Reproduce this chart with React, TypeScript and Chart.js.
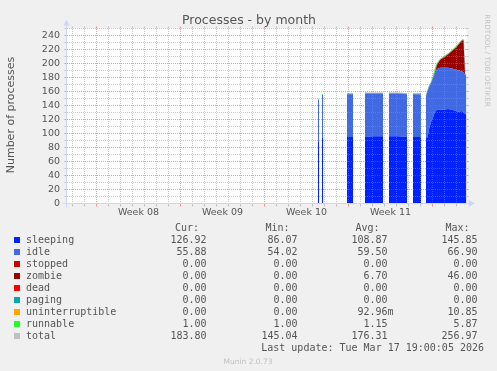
import React, { useEffect, useRef } from 'react';
import { Chart, registerables } from 'chart.js';

Chart.register(...registerables);

// ---- data (x = hours since the left edge of the month graph, 2 h per pixel) ----
const X_HOURS = [
  503, 505, 507,
  511, 513, 515,
  561, 573, 575,
  597, 615, 633, 635,
  645, 663, 681, 683,
  693, 709, 711,
  719, 722, 725, 729, 733, 737, 741, 747, 755, 763, 771, 779, 785, 791, 794, 797, 800,
];
const N = null;
const SLEEPING = [
  88, 88, N,
  94, 94, N,
  95, 95, N,
  95, 96, 96, N,
  96, 96, 95, N,
  95, 95, N,
  95, 94, 106, 116, 123, 131, 134, 134, 134, 135, 134, 132, 131, 132, 130, 128, 127,
];
const IDLE = [
  60, 60, N,
  61, 61, N,
  61, 61, N,
  62, 61, 61, N,
  61, 61, 61, N,
  61, 61, N,
  58, 66, 60, 56, 56, 55, 58, 60, 60, 59, 59, 59, 59, 57, 57, 56, 56,
];
const STOPPED = [
  0, 0, N,
  0, 0, N,
  0, 0, N,
  0, 0, 0, N,
  0, 0, 0, N,
  0, 0, N,
  0, 0, 0, 0, 0, 0, 0, 0, 0, 0, 0, 0, 0, 0, 0, 0, 0,
];
const ZOMBIE = [
  0, 0, N,
  0, 0, N,
  0, 0, N,
  0, 0, 0, N,
  0, 0, 0, N,
  0, 0, N,
  0, 0, 0, 0, 0, 2, 6, 11, 15, 19, 25, 32, 38, 44, 46, 0, 0,
];
const DEAD = STOPPED;
const PAGING = STOPPED;
const UNINTERRUPTIBLE = STOPPED;
const RUNNABLE = [
  1, 1, N,
  1, 1, N,
  1, 1, N,
  1, 1, 1, N,
  1, 1, 1, N,
  1, 1, N,
  1, 1, 1, 1, 2, 4, 2, 1, 1, 1, 1, 1, 1, 1, 1, 1, 1,
];

const Y_TICKS = [0, 20, 40, 60, 80, 100, 120, 140, 160, 180, 200, 220, 240];
const Y_MINOR = [10, 30, 50, 70, 90, 110, 130, 150, 170, 190, 210, 230, 250];
const DAY_LINES = [12, 36, 84, 108, 132, 156, 180, 204, 252, 276, 300, 324, 348, 372, 420, 444, 468, 492, 516, 540, 588, 612, 636, 660, 684, 708, 756, 780];
const WEEK_LINES = [60, 228, 396, 564, 732];
const WEEK_CENTERS = [144, 312, 480, 648];
const WEEK_LABELS = ['Week 08', 'Week 09', 'Week 10', 'Week 11'];

const SERIES_NAMES = ['sleeping', 'idle', 'stopped', 'zombie', 'dead', 'paging', 'uninterruptible', 'runnable', 'total'];
const SERIES_COLORS = ['#0022ff', '#4169e1', '#cc0000', '#990000', '#ff0000', '#00aaaa', '#ffa500', '#22ff22', '#c0c0c0'];
const CUR = ['126.92', '55.88', '0.00', '0.00', '0.00', '0.00', '0.00', '1.00', '183.80'];
const MIN = ['86.07', '54.02', '0.00', '0.00', '0.00', '0.00', '0.00', '1.00', '145.04'];
const AVG = ['108.87', '59.50', '0.00', '6.70', '0.00', '0.00', '92.96m', '1.15', '176.31'];
const MAX = ['145.85', '66.90', '0.00', '46.00', '0.00', '0.00', '10.85', '5.87', '256.97'];

const TITLE = 'Processes - by month';
const Y_TITLE = 'Number of processes';
const LAST_UPDATE = 'Last update: Tue Mar 17 19:00:05 2026';
const WATERMARK = 'RRDTOOL / TOBI OETIKER';
const VERSION = 'Munin 2.0.73';

const FONT_COLOR = '#555555';
const SANS = '"DejaVu Sans", sans-serif';
const MONO = '"DejaVu Sans Mono", monospace';

const px = (v: number) => Math.floor(v) + 0.5;

const munPlugin = {
  id: 'munin',
  beforeDraw(chart: any) {
    const { ctx, chartArea: a } = chart;
    ctx.save();
    ctx.fillStyle = '#f0f0f0';
    ctx.fillRect(0, 0, chart.width, chart.height);
    ctx.fillStyle = '#ffffff';
    ctx.fillRect(a.left, a.top, a.right - a.left, a.bottom - a.top);
    ctx.restore();
  },
  afterDatasetsDraw(chart: any) {
    const { ctx, chartArea: a, scales } = chart;
    const x = scales.x;
    const y = scales.y;
    const minorC = 'rgba(150,150,150,0.5)';
    const majorC = 'rgba(255,60,60,0.55)';
    const l0 = Math.ceil(a.left);
    const t0 = Math.ceil(a.top);
    ctx.save();
    ctx.lineWidth = 1;
    const hline = (v: number, c: string) => {
      const p = px(y.getPixelForValue(v));
      ctx.strokeStyle = c;
      ctx.setLineDash([1, 1]);
      ctx.beginPath(); ctx.moveTo(l0, p); ctx.lineTo(a.right, p); ctx.stroke();
      ctx.setLineDash([]);
      ctx.beginPath(); ctx.moveTo(a.left - 2, p); ctx.lineTo(a.left, p);
      ctx.moveTo(a.right, p); ctx.lineTo(a.right + 2, p); ctx.stroke();
    };
    const vline = (v: number, c: string) => {
      const p = px(x.getPixelForValue(v));
      ctx.strokeStyle = c;
      ctx.setLineDash([1, 1]);
      ctx.beginPath(); ctx.moveTo(p, t0); ctx.lineTo(p, a.bottom); ctx.stroke();
      ctx.setLineDash([]);
      ctx.beginPath(); ctx.moveTo(p, a.bottom); ctx.lineTo(p, a.bottom + 3);
      ctx.moveTo(p, a.top - 2); ctx.lineTo(p, a.top); ctx.stroke();
    };
    Y_MINOR.forEach((v) => hline(v, minorC));
    DAY_LINES.forEach((v) => vline(v, minorC));
    Y_TICKS.forEach((v) => hline(v, majorC));
    WEEK_LINES.forEach((v) => vline(v, majorC));

    // axes with arrows
    const axisC = '#cfd6f8';
    const x0 = px(a.left);
    const y0 = px(a.bottom);
    ctx.strokeStyle = axisC;
    ctx.fillStyle = axisC;
    ctx.beginPath();
    ctx.moveTo(x0 - 4, y0); ctx.lineTo(a.right + 4, y0);
    ctx.moveTo(x0, y0 + 4); ctx.lineTo(x0, a.top - 4);
    ctx.stroke();
    ctx.beginPath();
    ctx.moveTo(x0 - 3, a.top - 3); ctx.lineTo(x0 + 3, a.top - 3); ctx.lineTo(x0, a.top - 9); ctx.closePath(); ctx.fill();
    ctx.beginPath();
    ctx.moveTo(a.right + 2, y0 - 3.5); ctx.lineTo(a.right + 2, y0 + 3.5); ctx.lineTo(a.right + 8.5, y0); ctx.closePath(); ctx.fill();
    ctx.restore();
  },
  afterDraw(chart: any) {
    const { ctx } = chart;
    ctx.save();
    ctx.fillStyle = FONT_COLOR;
    // title
    ctx.font = `12.5px ${SANS}`;
    ctx.textAlign = 'center';
    ctx.textBaseline = 'alphabetic';
    ctx.fillText(TITLE, 249, 24);
    // y title
    ctx.save();
    ctx.translate(11, 115);
    ctx.rotate(-Math.PI / 2);
    ctx.font = `11px ${SANS}`;
    ctx.textBaseline = 'middle';
    ctx.fillText(Y_TITLE, 0, 0);
    ctx.restore();
    // watermark
    ctx.save();
    ctx.translate(487, 60.5);
    ctx.rotate(Math.PI / 2);
    ctx.font = `7.2px ${SANS}`;
    ctx.fillStyle = '#c4c4c4';
    ctx.textBaseline = 'middle';
    ctx.fillText(WATERMARK, 0, 0);
    ctx.restore();
    // legend
    ctx.font = `10px ${MONO}`;
    const cw = ctx.measureText('0').width;
    ctx.textBaseline = 'alphabetic';
    const headBase = 231;
    ctx.textAlign = 'left';
    ctx.fillText('Cur:', 175, headBase);
    ctx.fillText('Min:', 265.5, headBase);
    ctx.fillText('Avg:', 355.5, headBase);
    ctx.fillText('Max:', 445.5, headBase);
    const cols: [string[], number][] = [[CUR, 206.5], [MIN, 297.5], [AVG, 387.5], [MAX, 477.5]];
    SERIES_NAMES.forEach((name, i) => {
      const base = 243 + i * 12;
      ctx.fillStyle = SERIES_COLORS[i];
      ctx.fillRect(14, base - 6, 6, 6);
      ctx.fillStyle = FONT_COLOR;
      ctx.textAlign = 'left';
      ctx.fillText(name, 26, base);
      ctx.textAlign = 'right';
      cols.forEach(([arr, right]) => {
        const s = arr[i];
        const shift = /[a-z]$/i.test(s) ? cw : 0;
        ctx.fillText(s, right + shift, base);
      });
    });
    ctx.textAlign = 'right';
    ctx.fillText(LAST_UPDATE, 484, 351);
    ctx.textAlign = 'center';
    ctx.font = `7.5px ${SANS}`;
    ctx.fillStyle = '#c0c0c0';
    ctx.fillText(VERSION, 248, 363.5);
    ctx.restore();
  },
};

const STACK_SERIES = [SLEEPING, IDLE, STOPPED, ZOMBIE, DEAD, PAGING, UNINTERRUPTIBLE, RUNNABLE];

export default function App() {
  const ref = useRef<HTMLCanvasElement | null>(null);
  useEffect(() => {
    if (!ref.current) return;
    const datasets: any[] = STACK_SERIES.map((vals, i) => ({
      label: SERIES_NAMES[i],
      data: X_HOURS.map((h, k) => ({ x: h, y: vals[k] })),
      backgroundColor: SERIES_COLORS[i],
      borderColor: SERIES_COLORS[i],
      borderWidth: 0,
      pointRadius: 0,
      fill: i === 0 ? 'origin' : '-1',
      stack: 'procs',
      spanGaps: false,
      tension: 0,
    }));
    datasets.push({
      label: 'total',
      data: X_HOURS.map((h, k) => {
        const parts = STACK_SERIES.map((s) => s[k]);
        return { x: h, y: parts[0] === null ? null : parts.reduce((acc: number, v) => acc + (v as number), 0) };
      }),
      borderColor: '#c0c0c0',
      backgroundColor: '#c0c0c0',
      borderWidth: 1,
      pointRadius: 0,
      fill: false,
      stack: 'total',
      spanGaps: false,
      tension: 0,
    });
    const chart = new Chart(ref.current, {
      type: 'line',
      data: { datasets },
      options: {
        animation: false,
        responsive: false,
        devicePixelRatio: 1,
        layout: { padding: { left: 0, top: 28.5, right: 30.5, bottom: 147.5 } },
        plugins: { legend: { display: false }, tooltip: { enabled: false }, title: { display: false } },
        scales: {
          x: {
            type: 'linear',
            min: 0,
            max: 800,
            grid: { display: false, drawTicks: false },
            border: { display: false },
            afterBuildTicks: (s: any) => { s.ticks = WEEK_CENTERS.map((v) => ({ value: v })); },
            afterFit: (s: any) => { s.height = 20; },
            ticks: {
              autoSkip: false,
              maxRotation: 0,
              padding: 3,
              color: FONT_COLOR,
              font: { family: SANS, size: 9.5 },
              callback: (v: any) => WEEK_LABELS[WEEK_CENTERS.indexOf(Number(v))] ?? '',
            },
          },
          y: {
            type: 'linear',
            stacked: true,
            min: 0,
            max: 250,
            grid: { display: false, drawTicks: false },
            border: { display: false },
            afterBuildTicks: (s: any) => { s.ticks = Y_TICKS.map((v) => ({ value: v })); },
            afterFit: (s: any) => { s.width = 66.5; },
            ticks: {
              padding: 6.5,
              color: FONT_COLOR,
              font: { family: SANS, size: 9.5 },
              callback: (v: any) => String(v),
            },
          },
        },
      },
      plugins: [munPlugin],
    });
    return () => chart.destroy();
  }, []);
  return (
    <div style={{ position: 'fixed', left: 0, top: 0, width: 497, height: 371 }}>
      <canvas ref={ref} width={497} height={371} style={{ display: 'block' }} />
    </div>
  );
}
